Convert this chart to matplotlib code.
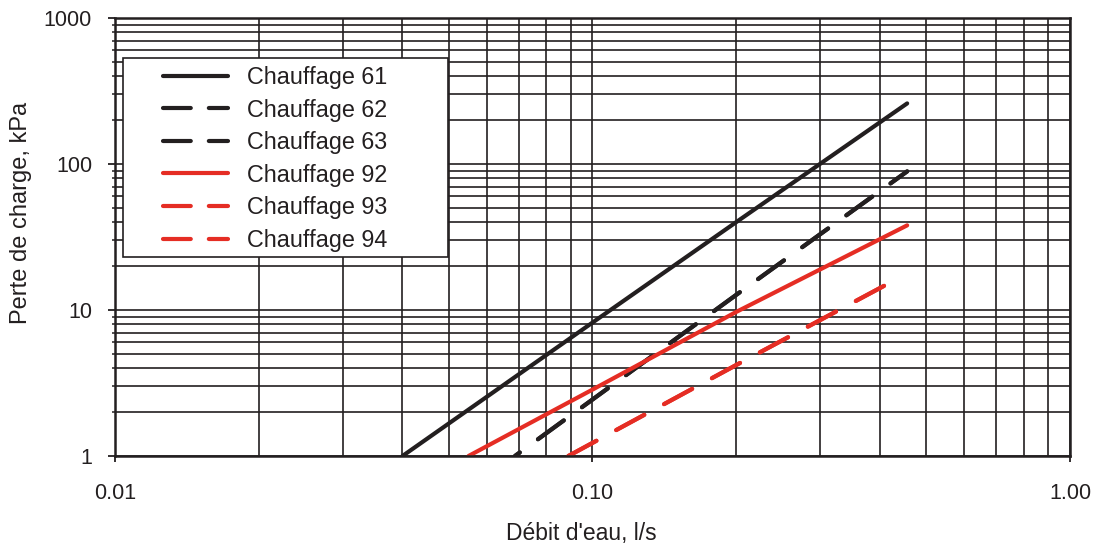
import matplotlib
matplotlib.use("Agg")
import matplotlib.pyplot as plt
from matplotlib.ticker import LogLocator, FixedLocator, FixedFormatter, NullFormatter
from matplotlib.patches import Rectangle
from matplotlib.lines import Line2D

plt.rcParams["font.family"] = ["Liberation Sans", "DejaVu Sans"]
plt.rcParams["lines.scale_dashes"] = False

BLACK = "#231f20"
RED = "#e52d24"

# ---------------------
# Data (débit l/s, perte de charge kPa)
# ---------------------
x_61 = [0.040, 0.10, 0.20, 0.456]
y_61 = [1.0, 8.2, 40.0, 260.0]

x_62 = [0.0688, 0.20, 0.456]
y_62 = [1.0, 12.7, 89.0]

x_63 = [0.0688, 0.20, 0.456]
y_63 = [1.0, 12.7, 89.0]

x_92 = [0.055, 0.10, 0.20, 0.456]
y_92 = [1.0, 2.85, 9.7, 38.0]

x_93 = [0.089, 0.20, 0.42]
y_93 = [1.0, 4.2, 15.4]

x_94 = [0.089, 0.20, 0.42]
y_94 = [1.0, 4.2, 15.4]

series = [
    ("Chauffage 61", x_61, y_61, BLACK, "-"),
    ("Chauffage 62", x_62, y_62, BLACK, (18.7, (23, 16.2))),
    ("Chauffage 63", x_63, y_63, BLACK, (18.7, (23, 16.2))),
    ("Chauffage 92", x_92, y_92, RED, "-"),
    ("Chauffage 93", x_93, y_93, RED, (0, (23, 16.2))),
    ("Chauffage 94", x_94, y_94, RED, (0, (23, 16.2))),
]

xticks = [0.01, 0.1, 1.0]
xtick_labels = ["0.01", "0.10", "1.00"]
yticks = [1, 10, 100, 1000]
ytick_labels = ["1", "10", "100", "1000"]

# ---------------------
# Figure
# ---------------------
fig = plt.figure(figsize=(11.01, 5.44), dpi=100)
ax = fig.add_axes([0.10445, 0.16176, 0.86739, 0.80515])

for label, xs, ys, color, ls in series:
    ax.plot(xs, ys, color=color, linestyle=ls, linewidth=3.0,
            solid_capstyle="round", dash_capstyle="round", label=label, zorder=2)

ax.set_xscale("log")
ax.set_yscale("log")
ax.set_xlim(0.01, 1.0)
ax.set_ylim(1, 1000)

ax.xaxis.set_major_locator(FixedLocator(xticks))
ax.xaxis.set_major_formatter(FixedFormatter(xtick_labels))
ax.xaxis.set_minor_locator(LogLocator(base=10, subs=range(2, 10)))
ax.xaxis.set_minor_formatter(NullFormatter())
ax.yaxis.set_major_locator(FixedLocator(yticks))
ax.yaxis.set_major_formatter(FixedFormatter(ytick_labels))
ax.yaxis.set_minor_locator(LogLocator(base=10, subs=range(2, 10)))
ax.yaxis.set_minor_formatter(NullFormatter())

ax.set_axisbelow(True)
ax.grid(which="both", color=BLACK, linewidth=1.2)

for sp in ax.spines.values():
    sp.set_color(BLACK)
    sp.set_linewidth(1.8)

ax.tick_params(axis="x", which="major", length=4.5, width=1.3, color=BLACK,
               pad=15, labelsize=15.5, labelcolor=BLACK)
ax.tick_params(axis="x", which="minor", length=0)
ax.tick_params(axis="y", which="major", length=5, width=1.3, color=BLACK,
               pad=11.5, labelsize=15.5, labelcolor=BLACK)
ax.tick_params(axis="y", which="minor", length=2.2, width=1.1, color=BLACK)

ax.set_xlabel("Débit d'eau, l/s", fontsize=16.5, color=BLACK)
ax.set_ylabel("Perte de charge, kPa", fontsize=17, color=BLACK)
ax.xaxis.set_label_coords(0.488, -0.151)
ax.yaxis.set_label_coords(-0.087, 0.555)

# Légende : cadre dessiné à part pour avoir la grande marge à gauche
ax.add_patch(Rectangle((0.00838, 0.4543), 0.34032, 0.4544, transform=ax.transAxes,
                       facecolor="white", edgecolor=BLACK, linewidth=1.2, zorder=4))

handles = [
    Line2D([0], [0], color=color, linewidth=3.0,
           linestyle="-" if ls == "-" else (0, (20, 13)),
           solid_capstyle="round", dash_capstyle="round")
    for _, _, _, color, ls in series
]
labels = [s[0] for s in series]

leg = ax.legend(handles, labels, loc="upper left", bbox_to_anchor=(0.0503, 0.8905),
                frameon=False, fontsize=16.8, handlelength=2.78, handletextpad=0.81,
                labelspacing=0.41, borderpad=0, borderaxespad=0, labelcolor=BLACK)
leg.set_zorder(5)

plt.savefig("out.png", dpi=100)
